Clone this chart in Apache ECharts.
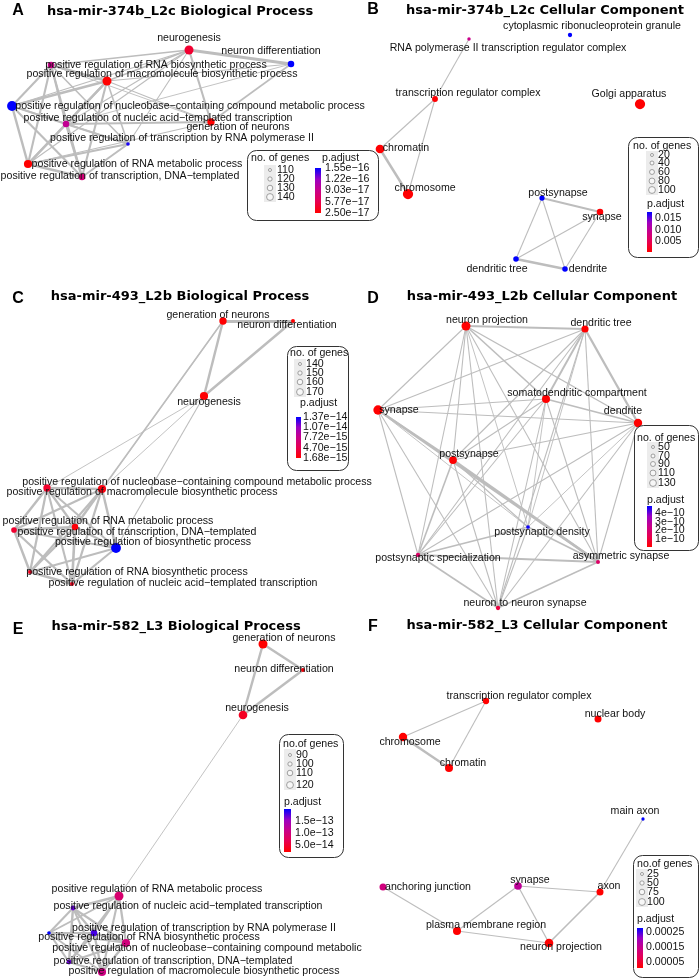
<!DOCTYPE html>
<html>
<head>
<meta charset="utf-8">
<script src="https://cdn.jsdelivr.net/npm/echarts@6/dist/echarts.min.js"></script>
<style>
  html, body { margin: 0; padding: 0; background: #fff; }
  #main { width: 700px; height: 979px; }
</style>
</head>
<body>
<div id="main"></div>
<script>
// ---------- data ----------
// A: hsa-mir-374b_L2c Biological Process
const aTerms = [
  "neurogenesis",
  "neuron differentiation",
  "positive regulation of RNA biosynthetic process",
  "positive regulation of macromolecule biosynthetic process",
  "positive regulation of nucleobase\u2212containing compound metabolic process",
  "positive regulation of nucleic acid\u2212templated transcription",
  "generation of neurons",
  "positive regulation of transcription by RNA polymerase II",
  "positive regulation of RNA metabolic process",
  "positive regulation of transcription, DNA\u2212templated",
];
const aX = [189, 291, 51, 107, 12, 66, 211, 128, 28, 82];
const aY = [50, 64, 65, 81, 106, 124, 122, 144, 164, 177];
const aGenes = [140, 125, 125, 140, 145, 125, 130, 108, 135, 125];
const aPadj = [4.5e-17, 1.55e-16, 9.0e-17, 2.5e-17, 1.55e-16, 9.5e-17, 2.5e-17, 1.5e-16, 2.5e-17, 8.0e-17];
const aEdges = [
  [0, 1, .7], [0, 6, .5], [1, 6, .35], [0, 2, .35], [0, 3, .35], [0, 4, .25], [0, 5, .2], [0, 7, .2], [0, 8, .2],
  [1, 3, .2], [1, 5, .15], [6, 5, .45], [6, 3, .2], [6, 8, .2], [6, 2, .15],
  [2, 3, .6], [2, 4, .5], [2, 5, .5], [2, 7, .35], [2, 8, .5], [2, 9, .45],
  [3, 4, .6], [3, 5, .55], [3, 7, .35], [3, 8, .6], [3, 9, .5],
  [4, 5, .5], [4, 7, .3], [4, 8, .6], [4, 9, .5],
  [5, 7, .45], [5, 8, .55], [5, 9, .6],
  [7, 8, .5], [7, 9, .45], [8, 9, .7],
];
const aSizeBreaks = [110, 120, 130, 140];
const aPadjBreaks = ["1.55e-16", "1.22e-16", "9.03e-17", "5.77e-17", "2.50e-17"];

// B: hsa-mir-374b_L2c Cellular Component
const bTerms = [
  "cytoplasmic ribonucleoprotein granule",
  "RNA polymerase II transcription regulator complex",
  "transcription regulator complex",
  "Golgi apparatus",
  "chromatin",
  "chromosome",
  "postsynapse",
  "synapse",
  "dendritic tree",
  "dendrite",
];
const bX = [220, 119, 85, 290, 30, 58, 192, 250, 166, 215];
const bY = [35, 39, 99, 104, 149, 194, 198, 212, 259, 269];
const bGenes = [25, 12, 50, 120, 95, 120, 40, 60, 45, 45];
const bPadj = [0.0178, 0.009, 0.0004, 0.0003, 0.0003, 0.0003, 0.0178, 0.0005, 0.0178, 0.0178];
const bEdges = [
  [1, 2, .2], [2, 4, .2], [2, 5, .2], [4, 5, .6],
  [6, 7, .45], [6, 8, .2], [6, 9, .2], [7, 8, .2], [7, 9, .2], [8, 9, .6],
];
const bSizeBreaks = [20, 40, 60, 80, 100];
const bPadjBreaks = ["0.015", "0.010", "0.005"];

// C: hsa-mir-493_L2b Biological Process
const cTerms = [
  "generation of neurons",
  "neuron differentiation",
  "neurogenesis",
  "positive regulation of nucleobase\u2212containing compound metabolic process",
  "positive regulation of macromolecule biosynthetic process",
  "positive regulation of RNA metabolic process",
  "positive regulation of transcription, DNA\u2212templated",
  "positive regulation of biosynthetic process",
  "positive regulation of RNA biosynthetic process",
  "positive regulation of nucleic acid\u2212templated transcription",
];
const cX = [223, 293, 204, 47, 102, 14, 75, 116, 30, 72];
const cY = [41, 41, 116, 208, 209, 250, 247, 268, 292, 304];
const cGenes = [160, 140, 165, 160, 165, 150, 155, 175, 140, 140];
const cPadj = [1.7e-15, 1.7e-15, 1.8e-15, 3.3e-15, 2.2e-15, 3.5e-15, 2.0e-15, 1.37e-14, 2.8e-15, 2.8e-15];
const cEdges = [
  [0, 1, .75], [0, 2, .6], [1, 2, .6], [0, 4, .3], [0, 6, .25], [2, 3, .15], [2, 4, .15], [2, 7, .2],
  [3, 4, .6], [3, 5, .6], [3, 6, .55], [3, 7, .45], [3, 8, .55], [3, 9, .5],
  [4, 5, .55], [4, 6, .6], [4, 7, .6], [4, 8, .5], [4, 9, .55],
  [5, 6, .6], [5, 7, .45], [5, 8, .6], [5, 9, .55],
  [6, 7, .55], [6, 8, .6], [6, 9, .65],
  [7, 8, .45], [7, 9, .5], [8, 9, .7],
];
const cSizeBreaks = [140, 150, 160, 170];
const cPadjBreaks = ["1.37e-14", "1.07e-14", "7.72e-15", "4.70e-15", "1.68e-15"];

// D: hsa-mir-493_L2b Cellular Component
const dTerms = [
  "neuron projection",
  "dendritic tree",
  "somatodendritic compartment",
  "synapse",
  "dendrite",
  "postsynapse",
  "postsynaptic density",
  "postsynaptic specialization",
  "asymmetric synapse",
  "neuron to neuron synapse",
];
const dX = [116, 235, 196, 28, 288, 103, 178, 68, 248, 148];
const dY = [46, 49, 119, 130, 143, 180, 247, 275, 282, 328];
const dGenes = [130, 100, 115, 135, 120, 110, 45, 55, 50, 55];
const dPadj = [1e-12, 1e-12, 1e-12, 1e-12, 1e-12, 1e-12, 4.8e-10, 1.7e-10, 1.7e-10, 1.0e-10];
const dEdges = [
  [0, 1, .4], [0, 2, .35], [0, 3, .2], [0, 4, .3], [0, 5, .2], [0, 6, .15], [0, 7, .2], [0, 8, .2], [0, 9, .2],
  [1, 2, .45], [1, 3, .2], [1, 4, .55], [1, 5, .2], [1, 6, .15], [1, 7, .2], [1, 8, .2], [1, 9, .2],
  [2, 3, .2], [2, 4, .4], [2, 5, .2], [2, 6, .15], [2, 7, .2], [2, 8, .2], [2, 9, .2],
  [3, 4, .25], [3, 5, .5], [3, 6, .15], [3, 7, .2], [3, 8, .55], [3, 9, .2],
  [4, 5, .2], [4, 6, .15], [4, 7, .2], [4, 8, .2], [4, 9, .2],
  [5, 6, .2], [5, 7, .35], [5, 8, .65], [5, 9, .2],
  [6, 7, .4], [6, 8, .4], [6, 9, .2],
  [7, 8, .45], [7, 9, .35], [8, 9, .3],
];
const dSizeBreaks = [50, 70, 90, 110, 130];
const dPadjBreaks = ["4e-10", "3e-10", "2e-10", "1e-10"];

// E: hsa-mir-582_L3 Biological Process
const eTerms = [
  "generation of neurons",
  "neuron differentiation",
  "neurogenesis",
  "positive regulation of RNA metabolic process",
  "positive regulation of nucleic acid\u2212templated transcription",
  "positive regulation of transcription by RNA polymerase II",
  "positive regulation of RNA biosynthetic process",
  "positive regulation of nucleobase\u2212containing compound metabolic",
  "positive regulation of transcription, DNA\u2212templated",
  "positive regulation of macromolecule biosynthetic process",
];
const eX = [263, 303, 243, 119, 73, 94, 49, 126, 69, 102];
const eY = [34, 60, 105, 286, 298, 323, 323, 333, 352, 362];
const eGenes = [120, 90, 118, 120, 95, 105, 88, 115, 95, 115];
const ePadj = [2.1e-14, 2.6e-14, 4.0e-14, 9.0e-14, 1.7e-13, 1.8e-13, 2.0e-13, 1.0e-13, 1.7e-13, 1.05e-13];
const eEdges = [
  [0, 1, .6], [0, 2, .6], [1, 2, .6], [2, 3, .15],
  [3, 4, .6], [3, 5, .5], [3, 6, .45], [3, 7, .55], [3, 8, .45], [3, 9, .5],
  [4, 5, .55], [4, 6, .5], [4, 7, .5], [4, 8, .6], [4, 9, .45],
  [5, 6, .45], [5, 7, .6], [5, 8, .55], [5, 9, .55],
  [6, 7, .4], [6, 8, .5], [6, 9, .4],
  [7, 8, .5], [7, 9, .6], [8, 9, .55],
];
const eSizeBreaks = [90, 100, 110, 120];
const ePadjBreaks = ["1.5e-13", "1.0e-13", "5.0e-14"];

// F: hsa-mir-582_L3 Cellular Component
const fTerms = [
  "transcription regulator complex",
  "nuclear body",
  "chromosome",
  "chromatin",
  "main axon",
  "anchoring junction",
  "synapse",
  "axon",
  "plasma membrane region",
  "neuron projection",
];
const fX = [136, 248, 53, 99, 293, 33, 168, 250, 107, 199];
const fY = [91, 109, 127, 158, 209, 277, 276, 282, 321, 333];
const fGenes = [60, 70, 90, 85, 15, 70, 80, 70, 85, 95];
const fPadj = [1e-5, 1e-5, 1e-5, 1e-5, 2.77e-4, 1.3e-4, 1.6e-4, 1e-5, 1e-5, 1e-5];
const fEdges = [
  [0, 2, .2], [0, 3, .2], [2, 3, .6], [4, 7, .2], [5, 8, .2],
  [6, 8, .2], [6, 7, .2], [6, 9, .25], [8, 9, .2], [7, 9, .35],
];
const fSizeBreaks = [25, 50, 75, 100];
const fPadjBreaks = ["0.00025", "0.00015", "0.00005"];

// ---------- layout / style ----------
const FONT = '"Liberation Sans", Arial, sans-serif';
const LABEL_PX = 10.6;
const EDGE = "#bdbdbd";
const padjStops = ["#FF0000", "#E8004F", "#C90089", "#9A00C3", "#0000FF"];

const panels = [
  {
    tag: "A", title: "hsa-mir-374b_L2c Biological Process", left: 0, top: 0, w: 350, h: 280,
    terms: aTerms, xs: aX, ys: aY, genes: aGenes, padj: aPadj, edges: aEdges,
    sizeBreaks: aSizeBreaks, padjBreaks: aPadjBreaks, lo: 2.5e-17, hi: 1.55e-16,
    tagPos: [18, 11], titlePos: [180, 12], geneTitle: "no. of genes",
    labelOff: [[0, -12], [-20, -13], [105, 0], [55, -7], [178, 0], [92, -6], [27, 5], [54, -6], [109, 0], [38, -1]],
    lg: { box: [247, 150, 131, 70], gTitle: [251, 158], circX: 270, circY: [170, 179, 188, 197], numX: 277,
          bg: [264, 165, 12, 37], pTitle: [322, 158], bar: [315, 168, 6, 45], tickX: 325 },
  },
  {
    tag: "B", title: "hsa-mir-374b_L2c Cellular Component", left: 350, top: 0, w: 350, h: 280,
    terms: bTerms, xs: bX, ys: bY, genes: bGenes, padj: bPadj, edges: bEdges,
    sizeBreaks: bSizeBreaks, padjBreaks: bPadjBreaks, lo: 0.0002, hi: 0.0178,
    tagPos: [23, 10], titlePos: [195, 11], geneTitle: "no. of genes",
    labelOff: [[22, -9], [39, 9], [33, -6], [-11, -10], [26, -1], [17, -6], [16, -5], [2, 5], [-19, 10], [23, 0]],
    lg: { box: [278, 137, 70, 120], gTitle: [283, 146], circX: 302, circY: [155, 163, 172, 181, 190], numX: 308,
          bg: [296, 151, 12, 44], pTitle: [297, 204], bar: [297, 212, 5, 40], tickX: 305 },
  },
  {
    tag: "C", title: "hsa-mir-493_L2b Biological Process", left: 0, top: 280, w: 350, h: 330,
    terms: cTerms, xs: cX, ys: cY, genes: cGenes, padj: cPadj, edges: cEdges,
    sizeBreaks: cSizeBreaks, padjBreaks: cPadjBreaks, lo: 1.68e-15, hi: 1.37e-14,
    tagPos: [18, 19], titlePos: [180, 17], geneTitle: "no. of genes",
    labelOff: [[-5, -6], [-6, 4], [5, 6], [150, -6], [40, 3], [94, -9], [62, 5], [37, -6], [107, 0], [111, -1]],
    lg: { box: [287, 66, 61, 124], gTitle: [290, 73], circX: 300, circY: [84, 93, 102, 112], numX: 306,
          bg: [294, 79, 12, 38], pTitle: [300, 123], bar: [296, 137, 5, 41], tickX: 303 },
  },
  {
    tag: "D", title: "hsa-mir-493_L2b Cellular Component", left: 350, top: 280, w: 350, h: 330,
    terms: dTerms, xs: dX, ys: dY, genes: dGenes, padj: dPadj, edges: dEdges,
    sizeBreaks: dSizeBreaks, padjBreaks: dPadjBreaks, lo: 0, hi: 4.9e-10,
    tagPos: [23, 19], titlePos: [192, 17], geneTitle: "no. of genes",
    labelOff: [[21, -6], [16, -6], [31, -6], [21, 0], [-15, -12], [16, -6], [14, 5], [20, 3], [23, -6], [27, -5]],
    lg: { box: [284, 145, 64, 125], gTitle: [287, 158], circX: 303, circY: [167, 176, 184, 193, 203], numX: 308,
          bg: [297, 162, 12, 46], pTitle: [297, 220], bar: [297, 226, 5, 41], tickX: 305 },
  },
  {
    tag: "E", title: "hsa-mir-582_L3 Biological Process", left: 0, top: 610, w: 350, h: 369,
    terms: eTerms, xs: eX, ys: eY, genes: eGenes, padj: ePadj, edges: eEdges,
    sizeBreaks: eSizeBreaks, padjBreaks: ePadjBreaks, lo: 2.1e-14, hi: 2.0e-13,
    tagPos: [18, 20], titlePos: [176, 17], geneTitle: "no.of genes",
    labelOff: [[21, -6], [-19, -1], [14, -7], [38, -7], [115, -2], [110, -5], [100, 4], [81, 5], [104, -1], [102, -1]],
    lg: { box: [279, 124, 64, 123], gTitle: [283, 134], circX: 290, circY: [145, 154, 163, 175], numX: 296,
          bg: [284, 139, 12, 41], pTitle: [284, 192], bar: [284, 199, 7, 43], tickX: 295 },
  },
  {
    tag: "F", title: "hsa-mir-582_L3 Cellular Component", left: 350, top: 610, w: 350, h: 369,
    terms: fTerms, xs: fX, ys: fY, genes: fGenes, padj: fPadj, edges: fEdges,
    sizeBreaks: fSizeBreaks, padjBreaks: fPadjBreaks, lo: 1e-5, hi: 2.77e-4,
    tagPos: [23, 17], titlePos: [187, 16], geneTitle: "no.of genes",
    labelOff: [[33, -5], [17, -5], [7, 5], [14, -5], [-8, -8], [45, 0], [12, -6], [9, -6], [29, -6], [12, 4]],
    lg: { box: [283, 245, 65, 122], gTitle: [287, 254], circX: 292, circY: [264, 273, 282, 292], numX: 297,
          bg: [286, 259, 12, 38], pTitle: [287, 309], bar: [287, 318, 6, 40], tickX: 296 },
  },
];

// ---------- helpers ----------
function hexToRgb(h) {
  return [parseInt(h.slice(1, 3), 16), parseInt(h.slice(3, 5), 16), parseInt(h.slice(5, 7), 16)];
}
function padjColor(v, lo, hi) {
  let t = (v - lo) / (hi - lo);
  t = Math.max(0, Math.min(1, t));
  const seg = t * (padjStops.length - 1);
  const i = Math.min(padjStops.length - 2, Math.floor(seg));
  const f = seg - i;
  const a = hexToRgb(padjStops[i]), b = hexToRgb(padjStops[i + 1]);
  const c = a.map((x, k) => Math.round(x + (b[k] - x) * f));
  return "rgb(" + c.join(",") + ")";
}
function nodeSize(p, n) {
  const n0 = p.sizeBreaks[0], n1 = p.sizeBreaks[p.sizeBreaks.length - 1];
  const d = 4 + (n - n0) / (n1 - n0) * 5;
  return Math.max(2.8, Math.min(11.5, d));
}
function edgeWidth(sim) {
  return 0.4 + sim * 3.4;
}
function fmtTick(s) {
  return s.replace("-", "\u2212");
}

// ---------- build option ----------
const grids = [], xAxes = [], yAxes = [], series = [], graphics = [];

panels.forEach((p, i) => {
  grids.push({ left: p.left, top: p.top, width: p.w, height: p.h, containLabel: false });
  xAxes.push({ gridIndex: i, type: "value", min: 0, max: p.w, show: false });
  yAxes.push({ gridIndex: i, type: "value", min: 0, max: p.h, inverse: true, show: false });

  series.push({
    type: "graph",
    coordinateSystem: "cartesian2d",
    xAxisIndex: i,
    yAxisIndex: i,
    silent: true,
    symbol: "circle",
    data: p.terms.map((t, k) => ({
      name: t,
      value: [p.xs[k], p.ys[k]],
      symbolSize: nodeSize(p, p.genes[k]),
      itemStyle: { color: padjColor(p.padj[k], p.lo, p.hi) },
      label: { offset: p.labelOff[k] },
    })),
    links: p.edges.map(([s, t, w]) => ({ source: s, target: t, lineStyle: { width: edgeWidth(w) } })),
    lineStyle: { color: EDGE, opacity: 1, curveness: 0 },
    label: {
      show: true,
      position: "inside",
      align: "center",
      verticalAlign: "middle",
      color: "#111",
      fontSize: LABEL_PX,
      fontFamily: FONT,
      textBorderWidth: 0,
      formatter: "{b}",
    },
    emphasis: { disabled: true },
  });

  // tag and title
  graphics.push({
    type: "text", x: p.left + p.tagPos[0], y: p.top + p.tagPos[1], z: 100,
    style: { text: p.tag, font: 'bold 16px "Liberation Sans", Arial, sans-serif', fill: "#000",
             textAlign: "center", textVerticalAlign: "middle" },
  });
  graphics.push({
    type: "text", x: p.left + p.titlePos[0], y: p.top + p.titlePos[1], z: 100,
    style: { text: p.title, font: 'bold 13px "DejaVu Sans", sans-serif', fill: "#000",
             textAlign: "center", textVerticalAlign: "middle" },
  });

  // legend
  const L = p.lg, ox = p.left, oy = p.top;
  const txt = (x, y, s, align) => ({
    type: "text", x: ox + x, y: oy + y, z: 101,
    style: { text: s, font: LABEL_PX + "px " + FONT, fill: "#111", textAlign: align || "left", textVerticalAlign: "middle" },
  });
  graphics.push({
    type: "rect", z: 100,
    shape: { x: ox + L.box[0] + 0.5, y: oy + L.box[1] + 0.5, width: L.box[2], height: L.box[3], r: 9 },
    style: { fill: "#fff", stroke: "#333", lineWidth: 1 },
  });
  graphics.push(txt(L.gTitle[0], L.gTitle[1], p.geneTitle));
  graphics.push({
    type: "rect", z: 101,
    shape: { x: ox + L.bg[0], y: oy + L.bg[1], width: L.bg[2], height: L.bg[3] },
    style: { fill: "#ececec" },
  });
  p.sizeBreaks.forEach((n, k) => {
    graphics.push({
      type: "circle", z: 102,
      shape: { cx: ox + L.circX, cy: oy + L.circY[k], r: nodeSize(p, n) * 0.38 },
      style: { fill: "#f7f7f7", stroke: "#8a8a8a", lineWidth: 0.8 },
    });
    graphics.push(txt(L.numX, L.circY[k], String(n)));
  });
  graphics.push(txt(L.pTitle[0], L.pTitle[1], "p.adjust"));
  const [bx, by, bw, bh] = L.bar;
  graphics.push({
    type: "rect", z: 101,
    shape: { x: ox + bx, y: oy + by, width: bw, height: bh },
    style: {
      fill: new echarts.graphic.LinearGradient(0, 1, 0, 0,
        padjStops.map((c, k) => ({ offset: k / (padjStops.length - 1), color: c }))),
    },
  });
  p.padjBreaks.forEach((s) => {
    const v = parseFloat(s);
    const t = (v - p.lo) / (p.hi - p.lo);
    const y = by + bh - t * bh;
    graphics.push(txt(L.tickX, y, fmtTick(s)));
  });
});

const chart = echarts.init(document.getElementById("main"), null, { renderer: "canvas" });
chart.setOption({
  animation: false,
  backgroundColor: "#fff",
  grid: grids,
  xAxis: xAxes,
  yAxis: yAxes,
  series: series,
  graphic: graphics,
});
</script>
</body>
</html>
